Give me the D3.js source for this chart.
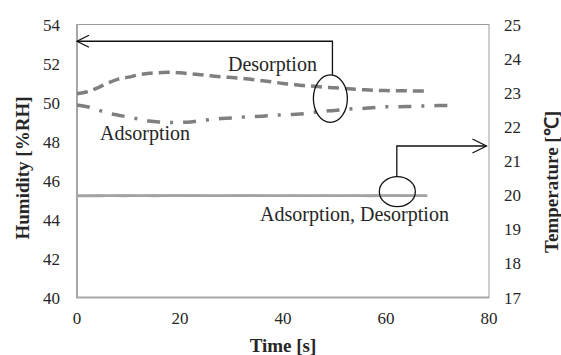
<!DOCTYPE html>
<html>
<head>
  <meta charset='utf-8'>
  <script src='https://d3js.org/d3.v7.min.js'></script>
  <style>
    body { margin: 0; background: #fff; }
    text { font-family: 'Liberation Serif', 'Times New Roman', serif; fill: #262626; }
  </style>
</head>
<body>
<script>
  // humidity, dashed line (desorption)
  var desTime = [0, 2, 4, 6, 8, 10, 12, 14, 16, 18, 20, 22, 24, 26, 28, 30, 32, 34,
    36, 38, 40, 42, 44, 46, 48, 50, 52, 54, 56, 58, 60, 62, 64, 66, 68];
  var desHum = [50.45, 50.55, 50.75, 51.0, 51.2, 51.3, 51.42, 51.5, 51.53, 51.55, 51.52,
    51.47, 51.42, 51.37, 51.32, 51.28, 51.24, 51.18, 51.12, 51.05, 50.98, 50.93, 50.87,
    50.83, 50.79, 50.76, 50.72, 50.68, 50.65, 50.62, 50.61, 50.6, 50.6, 50.59, 50.59];

  // humidity, dash-dot line (adsorption)
  var adsTime = [0, 2, 4, 6, 8, 10, 12, 14, 16, 18, 20, 22, 24, 26, 28, 30, 32, 34, 36,
    38, 40, 42, 44, 46, 48, 50, 52, 54, 56, 58, 60, 62, 64, 66, 68, 70, 72];
  var adsHum = [49.87, 49.78, 49.62, 49.45, 49.35, 49.25, 49.15, 49.05, 49.0, 48.98, 48.98,
    49.0, 49.07, 49.13, 49.18, 49.2, 49.25, 49.27, 49.3, 49.34, 49.37, 49.39, 49.42, 49.5,
    49.56, 49.59, 49.65, 49.68, 49.7, 49.74, 49.78, 49.78, 49.79, 49.81, 49.83, 49.84, 49.85];

  // temperature, both runs (solid lines)
  var tempTime = [0, 3, 6, 9, 12, 15, 18, 21, 24, 27, 30, 33, 36, 39, 42, 45, 48, 51, 54,
    57, 60, 63, 66, 68];
  var tempAds = [19.98, 19.97, 19.99, 19.97, 19.99, 19.97, 19.99, 19.98, 19.99, 19.98, 19.98,
    19.99, 19.98, 19.98, 19.99, 19.98, 19.98, 19.98, 19.99, 19.97, 19.99, 19.98, 19.99, 19.98];
  var tempDes = [19.98, 19.99, 19.98, 19.99, 19.98, 19.99, 19.98, 19.99, 19.98, 19.98, 19.99,
    19.98, 19.99, 19.98, 19.98, 19.98, 19.99, 19.98, 19.98, 19.99, 19.98, 19.99, 19.98, 19.98];

  var xTicks = [0, 20, 40, 60, 80];
  var yTicks = [40, 42, 44, 46, 48, 50, 52, 54];
  var y2Ticks = [17, 18, 19, 20, 21, 22, 23, 24, 25];

  (function() {
    var W = 561, H = 355;
    var pL = 77, pR = 489, pT = 24.5, pB = 297.5;

    var svg = d3.select('body').append('svg')
      .attr('width', W)
      .attr('height', H);

    var x = d3.scaleLinear().domain([0, 80]).range([pL, pR]);
    var y = d3.scaleLinear().domain([40, 54]).range([pB, pT]);
    var y2 = d3.scaleLinear().domain([17, 25]).range([pB, pT]);

    // plot frame
    svg.append('rect')
      .attr('x', pL).attr('y', pT)
      .attr('width', pR - pL).attr('height', pB - pT)
      .attr('fill', 'none').attr('stroke', '#9a9a9a').attr('stroke-width', 1);
    svg.append('path')
      .attr('d', 'M' + pL + ',' + pT + 'V' + pB + 'H' + pR)
      .attr('fill', 'none').attr('stroke', '#a6a6a6').attr('stroke-width', 2);

    // tick labels (no tick marks)
    svg.selectAll('.xt').data(xTicks).enter().append('text')
      .attr('x', function(d) { return x(d); })
      .attr('y', 324)
      .attr('text-anchor', 'middle')
      .style('font-size', '17px')
      .text(function(d) { return d; });
    svg.selectAll('.yt').data(yTicks).enter().append('text')
      .attr('x', 60)
      .attr('y', function(d) { return y(d) + 6; })
      .attr('text-anchor', 'end')
      .style('font-size', '17px')
      .text(function(d) { return d; });
    svg.selectAll('.y2t').data(y2Ticks).enter().append('text')
      .attr('x', 504)
      .attr('y', function(d) { return y2(d) + 6; })
      .style('font-size', '17px')
      .text(function(d) { return d; });

    // axis titles
    svg.append('text')
      .attr('x', 283).attr('y', 352)
      .attr('text-anchor', 'middle')
      .style('font-size', '19px').style('font-weight', 'bold')
      .text('Time [s]');
    svg.append('text')
      .attr('transform', 'translate(29,168) rotate(-90)')
      .attr('text-anchor', 'middle')
      .style('font-size', '19px').style('font-weight', 'bold')
      .text('Humidity [%RH]');
    svg.append('text')
      .attr('transform', 'translate(558,182) rotate(-90)')
      .attr('text-anchor', 'middle')
      .style('font-size', '19px').style('font-weight', 'bold')
      .text('Temperature [\u2103]');

    // lines
    var humLine = d3.line().curve(d3.curveMonotoneX)
      .x(function(d) { return x(d[0]); })
      .y(function(d) { return y(d[1]); });
    var tempLine = d3.line().curve(d3.curveBasis)
      .x(function(d) { return x(d[0]); })
      .y(function(d) { return y2(d[1]); });

    [tempAds, tempDes].forEach(function(vals) {
      svg.append('path')
        .datum(d3.zip(tempTime, vals))
        .attr('d', tempLine)
        .attr('fill', 'none')
        .attr('stroke', '#a3a3a3')
        .attr('stroke-width', 2.6);
    });

    svg.append('path')
      .datum(d3.zip(desTime, desHum))
      .attr('d', humLine)
      .attr('fill', 'none')
      .attr('stroke', '#7f7f7f')
      .attr('stroke-width', 3.5)
      .attr('stroke-dasharray', '11,6');

    svg.append('path')
      .datum(d3.zip(adsTime, adsHum))
      .attr('d', humLine)
      .attr('fill', 'none')
      .attr('stroke', '#7f7f7f')
      .attr('stroke-width', 3.5)
      .attr('stroke-dasharray', '13,10,3,10');

    // labels
    svg.append('text').attr('x', 228).attr('y', 70.5)
      .style('font-size', '20px').text('Desorption');
    svg.append('text').attr('x', 100).attr('y', 140)
      .style('font-size', '20px').text('Adsorption');
    svg.append('text').attr('x', 260).attr('y', 220.5)
      .style('font-size', '20px').text('Adsorption, Desorption');

    // annotation: humidity curves -> left axis
    var ann = svg.append('g')
      .attr('fill', 'none').attr('stroke', '#111').attr('stroke-width', 1.3);
    ann.append('ellipse')
      .attr('cx', x(49.2)).attr('cy', y(50.2))
      .attr('rx', 17).attr('ry', 23.8);
    ann.append('path')
      .attr('d', 'M' + x(49.6) + ',' + (y(50.2) - 23.8) + 'V' + y(53.14) + 'H' + x(0));
    ann.append('path')
      .attr('d', 'M' + (x(0) + 12) + ',' + (y(53.14) - 6) + 'L' + x(0) + ',' + y(53.14) +
        'L' + (x(0) + 12) + ',' + (y(53.14) + 6));

    // annotation: temperature curves -> right axis
    ann.append('ellipse')
      .attr('cx', x(62.2)).attr('cy', y2(20.1))
      .attr('rx', 18).attr('ry', 15);
    ann.append('path')
      .attr('d', 'M' + x(62.1) + ',' + (y2(20.1) - 15) + 'V' + y2(21.44) + 'H' + x(79.5));
    ann.append('path')
      .attr('d', 'M' + (x(79.5) - 14) + ',' + (y2(21.44) - 7) + 'L' + x(79.5) + ',' + y2(21.44) +
        'L' + (x(79.5) - 14) + ',' + (y2(21.44) + 7));
  })();
</script>
</body>
</html>
